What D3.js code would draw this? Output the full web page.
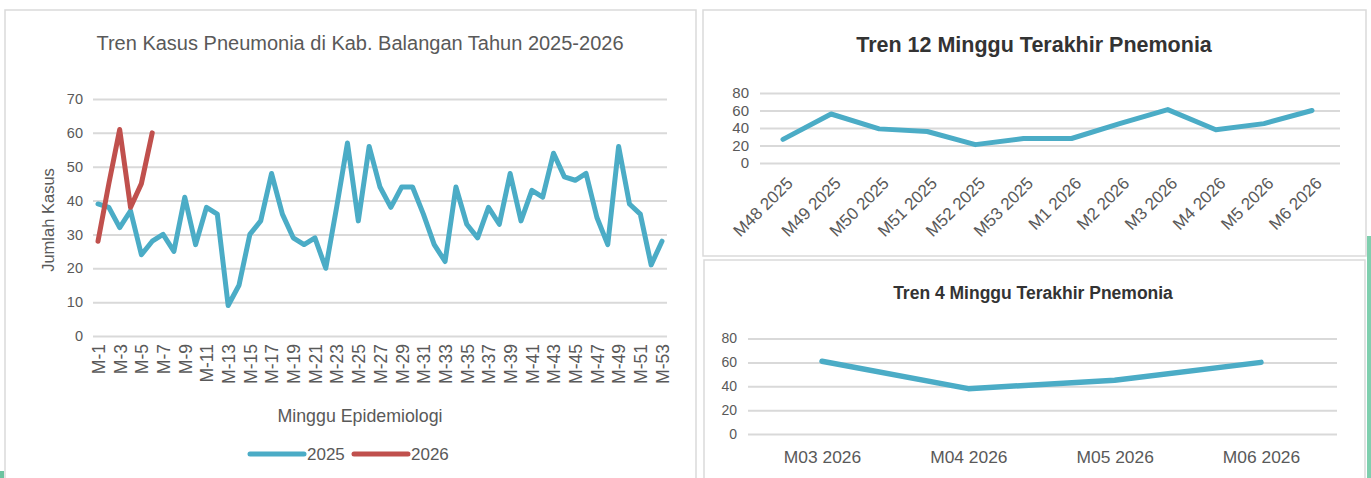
<!DOCTYPE html>
<html><head><meta charset="utf-8">
<script src="https://cdn.jsdelivr.net/npm/d3@7"></script>
<style>
html,body{margin:0;padding:0;background:#fff;}
svg{display:block;font-family:"Liberation Sans",Arial,Helvetica,sans-serif;}
</style></head>
<body>
<svg id="c" width="1371" height="478"></svg>
<script>
// ---- data ----
const weeks = d3.range(1, 54).map(i => "M-" + i);
const cases2025 = [39,38,32,37,24,28,30,25,41,27,38,36,9,15,30,34,48,36,29,27,29,20,38,57,34,56,44,38,44,44,36,27,22,44,33,29,38,33,48,34,43,41,54,47,46,48,35,27,56,39,36,21,28];
const cases2026 = [28,45,61,38,45,60];
const yTicksMain = [0,10,20,30,40,50,60,70];

const weeks12 = ["M48 2025","M49 2025","M50 2025","M51 2025","M52 2025","M53 2025","M1 2026","M2 2026","M3 2026","M4 2026","M5 2026","M6 2026"];
const cases12 = [27,56,39,36,21,28,28,45,61,38,45,60];

const weeks4 = ["M03 2026","M04 2026","M05 2026","M06 2026"];
const cases4 = [61,38,45,60];
const yTicksSmall = [0,20,40,60,80];

const BLUE = "#4BACC6", RED = "#C0504D", GRID = "#d9d9d9", TXT = "#595959";

const svg = d3.select("#c");

// decorations
svg.append("rect").attr("x",1367).attr("y",236).attr("width",4).attr("height",242).attr("fill","#7fcfae");
svg.append("rect").attr("x",0).attr("y",471).attr("width",4).attr("height",7).attr("fill","#6cc3a0");

// panels
const panel = (x,y,w,h) => svg.append("rect").attr("x",x).attr("y",y).attr("width",w).attr("height",h)
  .attr("fill","#fff").attr("stroke","#dadada").attr("stroke-width",1.5);
panel(5,10,691,490);
panel(703,10,663,246);
panel(704,260,661,240);

// ---------- main chart ----------
{
  const x = d3.scalePoint().domain(weeks).range([98,662]);
  const y = d3.scaleLinear().domain([0,70]).range([336,99]);
  const g = svg.append("g");
  g.append("text").attr("x",360).attr("y",50).attr("text-anchor","middle")
    .attr("font-size",20).attr("fill",TXT).text("Tren Kasus Pneumonia di Kab. Balangan Tahun 2025-2026");
  const ya = d3.axisLeft(y).tickValues(yTicksMain).tickSize(-(667-93)).tickPadding(10);
  const yg = g.append("g").attr("transform","translate(93,0)").call(ya);
  yg.select(".domain").remove();
  yg.selectAll(".tick line").attr("stroke",GRID).attr("stroke-width",2);
  yg.selectAll(".tick text").attr("font-size",14.5).attr("fill",TXT).attr("font-family","Liberation Sans, Arial");
  const xa = d3.axisBottom(x).tickValues(weeks.filter((d,i)=>i%2===0)).tickSize(0).tickPadding(0);
  const xg = g.append("g").attr("transform","translate(0,336)").call(xa);
  xg.select(".domain").remove();
  xg.selectAll(".tick text").attr("font-size",17.5).attr("fill",TXT).attr("font-family","Liberation Sans, Arial")
    .attr("text-anchor","end").attr("transform","rotate(-90)").attr("x",-8).attr("y",0).attr("dy","0.36em");
  g.append("text").attr("transform","translate(54,220) rotate(-90)").attr("text-anchor","middle")
    .attr("font-size",16.5).attr("fill",TXT).text("Jumlah Kasus");
  g.append("text").attr("x",360).attr("y",422).attr("text-anchor","middle")
    .attr("font-size",17.8).attr("fill",TXT).text("Minggu Epidemiologi");
  const line = d3.line().x((d,i)=>x(weeks[i])).y(d=>y(d)).curve(d3.curveLinear);
  g.append("path").datum(cases2025).attr("d",line).attr("fill","none").attr("stroke",BLUE)
    .attr("stroke-width",5).attr("stroke-linejoin","round").attr("stroke-linecap","round");
  g.append("path").datum(cases2026).attr("d",line).attr("fill","none").attr("stroke",RED)
    .attr("stroke-width",5).attr("stroke-linejoin","round").attr("stroke-linecap","round");
  // legend
  const lg = g.append("g");
  [[2025,BLUE,250],[2026,RED,354]].forEach(([t,c,lx])=>{
    lg.append("line").attr("x1",lx).attr("x2",lx+54).attr("y1",454).attr("y2",454)
      .attr("stroke",c).attr("stroke-width",5).attr("stroke-linecap","round");
    lg.append("text").attr("x",lx+57).attr("y",460).attr("font-size",17).attr("fill",TXT).text(t);
  });
}

// ---------- 12 week chart ----------
{
  const x = d3.scalePoint().domain(weeks12).range([783,1312]);
  const y = d3.scaleLinear().domain([0,80]).range([163,93]);
  const g = svg.append("g");
  g.append("text").attr("x",1034).attr("y",52).attr("text-anchor","middle")
    .attr("font-size",21.5).attr("font-weight","bold").attr("fill","#333").text("Tren 12 Minggu Terakhir Pnemonia");
  const ya = d3.axisLeft(y).tickValues(yTicksSmall).tickSize(-(1340-760)).tickPadding(11);
  const yg = g.append("g").attr("transform","translate(760,0)").call(ya);
  yg.select(".domain").remove();
  yg.selectAll(".tick line").attr("stroke",GRID).attr("stroke-width",2);
  yg.selectAll(".tick text").attr("font-size",15).attr("fill",TXT).attr("font-family","Liberation Sans, Arial");
  const xa = d3.axisBottom(x).tickSize(0).tickPadding(0);
  const xg = g.append("g").attr("transform","translate(0,163)").call(xa);
  xg.select(".domain").remove();
  xg.selectAll(".tick text").attr("font-size",17).attr("fill",TXT).attr("font-family","Liberation Sans, Arial")
    .attr("text-anchor","end").attr("transform","translate(6,17) rotate(-45)").attr("x",0).attr("y",0).attr("dy","0.36em");
  const line = d3.line().x((d,i)=>x(weeks12[i])).y(d=>y(d));
  g.append("path").datum(cases12).attr("d",line).attr("fill","none").attr("stroke",BLUE)
    .attr("stroke-width",5).attr("stroke-linejoin","round").attr("stroke-linecap","round");
}

// ---------- 4 week chart ----------
{
  const x = d3.scalePoint().domain(weeks4).range([822,1261]);
  const y = d3.scaleLinear().domain([0,80]).range([434,338.5]);
  const g = svg.append("g");
  g.append("text").attr("x",1033).attr("y",299).attr("text-anchor","middle")
    .attr("font-size",17.5).attr("font-weight","bold").attr("fill","#333").text("Tren 4 Minggu Terakhir Pnemonia");
  const ya = d3.axisLeft(y).tickValues(yTicksSmall).tickSize(-(1337-748)).tickPadding(11);
  const yg = g.append("g").attr("transform","translate(748,0)").call(ya);
  yg.select(".domain").remove();
  yg.selectAll(".tick line").attr("stroke",GRID).attr("stroke-width",2);
  yg.selectAll(".tick text").attr("font-size",14).attr("fill",TXT).attr("font-family","Liberation Sans, Arial");
  const xa = d3.axisBottom(x).tickSize(0).tickPadding(17);
  const xg = g.append("g").attr("transform","translate(0,434)").call(xa);
  xg.select(".domain").remove();
  xg.selectAll(".tick text").attr("font-size",17.4).attr("fill",TXT).attr("font-family","Liberation Sans, Arial");
  const line = d3.line().x((d,i)=>x(weeks4[i])).y(d=>y(d));
  g.append("path").datum(cases4).attr("d",line).attr("fill","none").attr("stroke",BLUE)
    .attr("stroke-width",5.5).attr("stroke-linejoin","round").attr("stroke-linecap","round");
}
</script>
</body></html>
